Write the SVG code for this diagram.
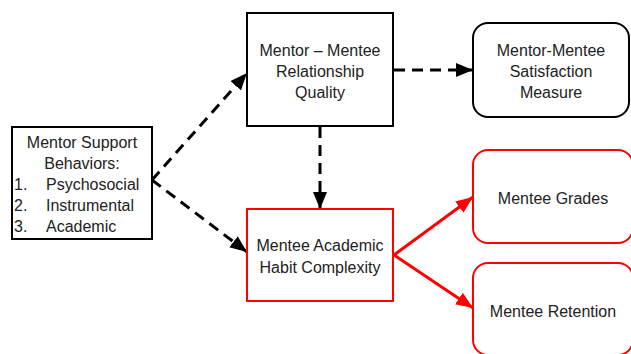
<svg xmlns="http://www.w3.org/2000/svg" width="631" height="354" viewBox="0 0 631 354">
<style>
text{font-family:"Liberation Sans",Arial,sans-serif;font-size:16px;fill:#222}
.c{text-anchor:middle}
.bk{fill:#fff;stroke:#000;stroke-width:2}
.rd{fill:#fff;stroke:#f00;stroke-width:2}
.dash{stroke:#000;stroke-width:3;stroke-dasharray:11 7;fill:none}
.solid{stroke:#000;stroke-width:3;fill:none}
.red{stroke:#f00;stroke-width:3;fill:none}
</style>
<defs>
<marker id="ab" markerUnits="userSpaceOnUse" markerWidth="18" markerHeight="14" refX="17" refY="7" orient="auto"><path d="M0,0 L17,7 L0,14 Z" fill="#000"/></marker>
<marker id="ar" markerUnits="userSpaceOnUse" markerWidth="18" markerHeight="14" refX="17" refY="7" orient="auto"><path d="M0,0 L17,7 L0,14 Z" fill="#f00"/></marker>
</defs>
<g id="connectors">
<path class="dash" d="M152,180 L247,73" marker-end="url(#ab)"/>
<path class="dash" d="M152,180 L247,252" marker-end="url(#ab)"/>
<path class="dash" d="M320,127 L320,209" marker-end="url(#ab)"/>
<path class="dash" d="M394,70 L473,70" marker-end="url(#ab)"/>
<path class="red" d="M394,255 L473,197" marker-end="url(#ar)"/>
<path class="red" d="M394,255 L473,308" marker-end="url(#ar)"/>
</g>
<g id="support">
<rect class="bk" x="12" y="127" width="140" height="112"/>
<text class="c" x="82" y="148">Mentor Support</text>
<text class="c" x="82" y="169">Behaviors:</text>
<text x="14" y="190">1.</text><text x="46" y="190">Psychosocial</text>
<text x="14" y="211">2.</text><text x="46" y="211">Instrumental</text>
<text x="14" y="232">3.</text><text x="46" y="232">Academic</text>
</g>
<g id="relationship">
<rect class="bk" x="247" y="13" width="146" height="113"/>
<text class="c" x="320" y="56">Mentor – Mentee</text>
<text class="c" x="320" y="77">Relationship</text>
<text class="c" x="320" y="98">Quality</text>
</g>
<g id="satisfaction">
<rect class="bk" x="473" y="23" width="156" height="94" rx="15"/>
<text class="c" x="551" y="56">Mentor-Mentee</text>
<text class="c" x="551" y="77">Satisfaction</text>
<text class="c" x="551" y="98">Measure</text>
</g>
<g id="habit">
<rect class="rd" x="247" y="209" width="146" height="92"/>
<text class="c" x="320" y="251">Mentee Academic</text>
<text class="c" x="320" y="273">Habit Complexity</text>
</g>
<g id="grades">
<rect class="rd" x="473" y="150" width="160" height="93" rx="15"/>
<text class="c" x="553" y="204">Mentee Grades</text>
</g>
<g id="retention">
<rect class="rd" x="473" y="263" width="160" height="92" rx="15"/>
<text class="c" x="553" y="317">Mentee Retention</text>
</g>
</svg>
